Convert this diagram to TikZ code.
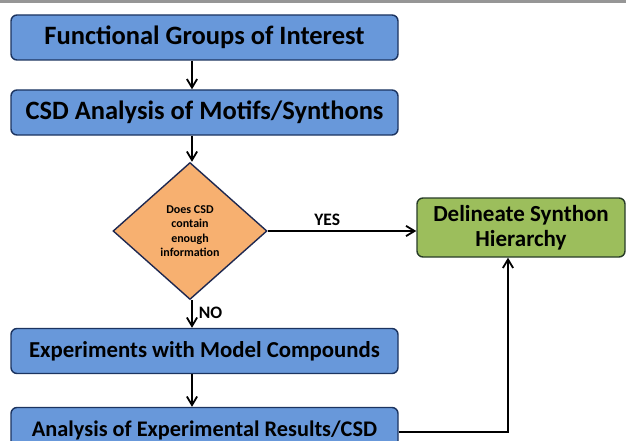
\documentclass[tikz,border=0pt]{standalone}
\usepackage{fontspec}
\setmainfont{Carlito}
\usetikzlibrary{arrows.meta,positioning,shapes.geometric}
\definecolor{StepFill}{RGB}{104,152,218}
\definecolor{StepBorder}{RGB}{28,52,96}
\definecolor{AskFill}{RGB}{247,176,112}
\definecolor{AskBorder}{RGB}{30,40,80}
\definecolor{DoneFill}{RGB}{156,190,92}
\definecolor{DoneBorder}{RGB}{40,60,40}
\definecolor{TopBar}{RGB}{150,150,150}
\tikzset{
  etapa/.style={draw=StepBorder, fill=StepFill, line width=1.4pt, rounded corners=6pt,
                align=center, font=\bfseries\fontsize{26.5}{28}\selectfont, inner sep=2pt,
                minimum height=45pt, minimum width=387pt},
  pergunta/.style={diamond, draw=AskBorder, fill=AskFill, line width=1.4pt,
                align=center, font=\bfseries\fontsize{12}{14.5}\selectfont, inner sep=0pt,
                minimum width=154pt, minimum height=137pt},
  fim/.style={draw=DoneBorder, fill=DoneFill, line width=1.4pt, rounded corners=6pt,
                align=center, font=\bfseries\fontsize{23}{25}\selectfont, inner sep=2pt,
                minimum height=59pt, minimum width=208pt},
  seta/.style={-{Straight Barb[length=3mm,width=3.6mm,line width=1.8pt]}, line width=1.8pt, black},
  rotulo/.style={font=\bfseries\fontsize{17.5}{19}\selectfont, inner sep=1pt},
}
\begin{document}
\begin{tikzpicture}[x=1pt,y=-1pt]
  \useasboundingbox (0,0) rectangle (626,441);
  \clip (0,0) rectangle (626,441);
  \fill[TopBar] (0,0) rectangle (626,3);

  % --- main column ------------------------------------------------------------
  \node[etapa] (groups)  at (204.5, 37.5) {Functional Groups of Interest};
  \node[etapa] (csd)     at (204.5, 112.5) {CSD Analysis of Motifs/Synthons};
  \node[pergunta] (ask)  at (190, 231) {Does CSD\\contain\\enough\\information};
  \node[etapa,font=\bfseries\fontsize{22.8}{24}\selectfont] (model)    at (204.5, 351) {Experiments with Model Compounds};
  \node[etapa,font=\bfseries\fontsize{22.3}{24}\selectfont] (analysis) at (204.5, 430) {Analysis of Experimental Results/CSD};

  % --- result -------------------------------------------------------------------
  \node[fim] (hierarchy) at (521, 227.5) {Delineate Synthon\\Hierarchy};

  \draw[seta] (groups.south -| 192,0) -- (csd.north -| 192,0);
  \draw[seta] (csd.south -| 192,0) -- (ask.north -| 192,0);
  \draw[seta] (ask.south -| 192,0) -- node[rotulo,right=5pt,pos=0.45]{NO} (model.north -| 192,0);
  \draw[seta] (model.south -| 192,0) -- (analysis.north -| 192,0);
  \draw[seta] (ask.east) -- node[rotulo,above=3pt,pos=0.4]{YES} (ask.east -| hierarchy.west);
  \draw[seta] (analysis.east |- 0,432) -| (hierarchy.south -| 508,0);
\end{tikzpicture}
\end{document}
